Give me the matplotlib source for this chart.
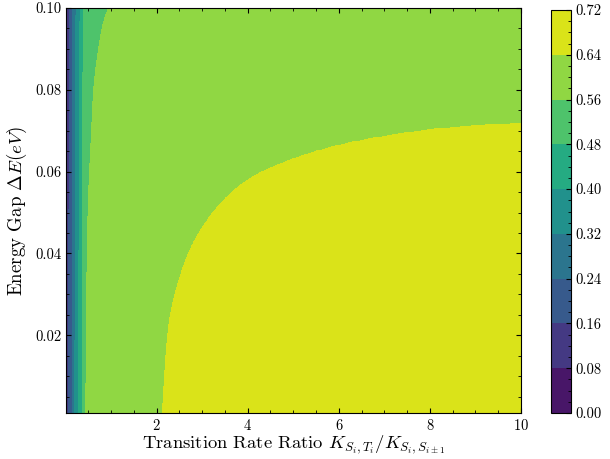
import numpy as np
import matplotlib
matplotlib.use("Agg")
import matplotlib.pyplot as plt

plt.rcParams['font.family'] = 'serif'
plt.rcParams['font.serif'] = ['cmr10', 'DejaVu Serif']
plt.rcParams['mathtext.fontset'] = 'cm'
plt.rcParams['axes.formatter.use_mathtext'] = True
plt.rcParams['xtick.direction'] = 'in'
plt.rcParams['ytick.direction'] = 'in'
plt.rcParams['xtick.top'] = True
plt.rcParams['ytick.right'] = True
plt.rcParams['xtick.minor.visible'] = True
plt.rcParams['ytick.minor.visible'] = True

# contour levels shown on the colour bar
levels = [0.0, 0.08, 0.16, 0.24, 0.32, 0.40, 0.48, 0.56, 0.64, 0.72]

# where each level boundary crosses: (energy gap, rate ratio)
b08_y = [0.001, 0.07, 0.1]
b08_x = [0.028, 0.029, 0.033]
b16_y = [0.001, 0.07, 0.1]
b16_x = [0.073, 0.076, 0.085]
b24_y = [0.001, 0.07, 0.1]
b24_x = [0.145, 0.150, 0.160]
b32_y = [0.001, 0.07, 0.1]
b32_x = [0.205, 0.212, 0.230]
b40_y = [0.001, 0.07, 0.1]
b40_x = [0.290, 0.300, 0.320]
b48_y = [0.001, 0.07, 0.1]
b48_x = [0.365, 0.370, 0.390]
b56_y = [0.001, 0.02, 0.04, 0.055, 0.068, 0.08, 0.086, 0.094, 0.097, 0.1]
b56_x = [0.44, 0.45, 0.47, 0.50, 0.56, 0.61, 0.67, 0.78, 0.84, 0.94]
b64_y = [0.001, 0.0123, 0.0221, 0.0287, 0.0344, 0.0393, 0.045, 0.0515, 0.0576,
         0.061, 0.0647, 0.0674, 0.0695, 0.0710, 0.0719, 0.0735, 0.077, 0.085, 0.1]
b64_x = [2.12, 2.18, 2.25, 2.36, 2.51, 2.66, 2.91, 3.32, 3.90,
         4.48, 5.36, 6.31, 7.41, 8.50, 10.0, 12.0, 20.0, 60.0, 150.0]


def chaikin(px, py, rounds=4):
    # corner cutting so the traced boundary has no kinks
    p = np.column_stack([px, py]).astype(float)
    for _ in range(rounds):
        q = 0.75 * p[:-1] + 0.25 * p[1:]
        r = 0.25 * p[:-1] + 0.75 * p[1:]
        mid = np.empty((2 * len(q), 2))
        mid[0::2] = q
        mid[1::2] = r
        p = np.vstack([p[:1], mid, p[-1:]])
    return p[:, 0], p[:, 1]


boundaries = []
for by, bx in [(b08_y, b08_x), (b16_y, b16_x), (b24_y, b24_x), (b32_y, b32_x),
               (b40_y, b40_x), (b48_y, b48_x), (b56_y, b56_x), (b64_y, b64_x)]:
    sx, sy = chaikin(bx, by)
    boundaries.append((sy, sx))

ratio = np.linspace(0.01, 10, 900)
gap = np.linspace(0.001, 0.1, 500)

Z = np.zeros((len(gap), len(ratio)))
for i, g in enumerate(gap):
    xs = [0.0] + [np.interp(g, by, bx) for by, bx in boundaries] + [300.0]
    zs = [0.0] + levels[1:-1] + [0.70]
    Z[i] = np.interp(ratio, xs, zs)

fig = plt.figure(figsize=(6.1, 4.59), dpi=100)
ax = fig.add_axes([66 / 610, 1 - 413 / 459, 455 / 610, 405 / 459])
cax = fig.add_axes([551 / 610, 1 - 413 / 459, 20 / 610, 403 / 459])

cs = ax.contourf(ratio, gap, Z, levels=levels, cmap='viridis')
ax.set_xlim(0.01, 10)
ax.set_ylim(0.001, 0.1)
ax.set_xticks([2, 4, 6, 8, 10])
ax.set_yticks([0.02, 0.04, 0.06, 0.08, 0.10])
ax.set_yticklabels(['0.02', '0.04', '0.06', '0.08', '0.10'])
ax.tick_params(labelsize=10.5)
ax.set_xlabel(r'Transition Rate Ratio $K_{S_i,T_i}/K_{S_i,S_{i\pm1}}$', fontsize=13.4, labelpad=0.5)
ax.set_ylabel(r'Energy Gap $\Delta E(eV)$', fontsize=13.6, labelpad=4)

cb = fig.colorbar(cs, cax=cax)
cb.set_ticks(levels)
cb.set_ticklabels(['%.2f' % v for v in levels])
cb.ax.tick_params(labelsize=10.5, direction='in')
cb.ax.minorticks_on()

fig.savefig('out.png', dpi=100)
